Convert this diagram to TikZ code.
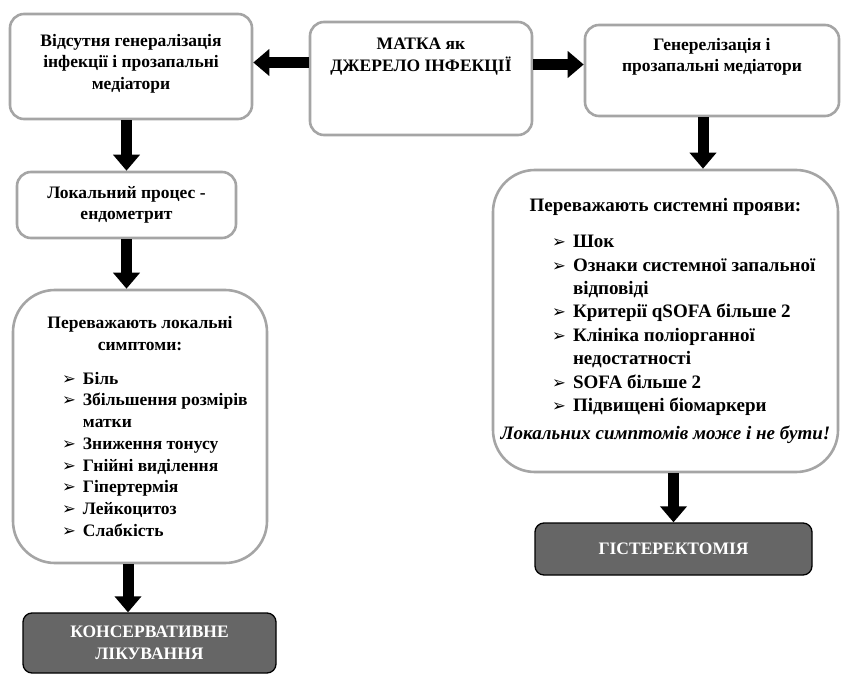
\documentclass[tikz,border=0pt]{standalone}
\usepackage{fontspec}
\setmainfont{Liberation Serif}
\newfontfamily\symfont{DejaVu Sans}
\usetikzlibrary{arrows.meta,positioning}

\definecolor{boxgray}{HTML}{A5A5A5}
\definecolor{endgray}{HTML}{666666}

% font sizes
\newcommand\fsbox{\fontsize{17.5}{21.5}\selectfont}
\newcommand\fsloc{\fontsize{17.5}{21.7}\selectfont}
\newcommand\fssys{\fontsize{19}{23.4}\selectfont}

% text of a box: width, height, gap above the first line, text
\newcommand\midcell[3]{\parbox[c][#2][c]{#1}{\centering #3\par}}
\newcommand\topcell[4]{\parbox[c][#2][t]{#1}{\centering\vspace*{#3}#4\par}}
% one item of a list
\newcommand\itm[1]{\hangindent=21pt\hangafter=1\noindent
  \makebox[21pt][l]{\symfont\fontsize{16.5}{16.5}\selectfont ➢}#1\par}

\tikzset{
  box/.style={draw=boxgray, line width=2.6pt, rounded corners=14pt,
    fill=white, inner sep=0pt, font=\bfseries\fsbox},
  bigbox/.style={box, rounded corners=42pt},
  endbox/.style={draw=black, line width=1.3pt, rounded corners=9pt,
    fill=endgray, inner sep=0pt, text=white, font=\bfseries\fsbox},
  fat/.style={line width=11pt, -{Triangle[width=26pt,length=16pt]}}
}

\begin{document}
\begin{tikzpicture}[x=1pt,y=-1pt]
  \useasboundingbox (0,0) rectangle (841,674);

  % top row
  \node[box] (source) at (421,78.5)
    {\topcell{222pt}{113pt}{16pt}{МАТКА як\\ДЖЕРЕЛО ІНФЕКЦІЇ}};
  \node[box] (nogen) at (131,66.5)
    {\topcell{242pt}{105pt}{20pt}{Відсутня генералізація\\інфекції і прозапальні\\медіатори}};
  \node[box] (gen) at (712,70.5)
    {\topcell{254pt}{91pt}{13pt}{Генерелізація і\\прозапальні медіатори}};

  % left branch
  \node[box] (endo) at (126.5,205)
    {\midcell{219pt}{66pt}{Локальний процес -\\ендометрит}};
  \node[bigbox] (local) at (140,426.5)
    {\midcell{254pt}{273pt}{\fsloc
      Переважають локальні\\симптоми:\par\vspace{12pt}
      \raggedright\leftskip=49pt
      \itm{Біль}
      \itm{Збільшення розмірів\newline матки}
      \itm{Зниження тонусу}
      \itm{Гнійні виділення}
      \itm{Гіпертермія}
      \itm{Лейкоцитоз}
      \itm{Слабкість}}};
  \node[endbox] (conserv) at (149.5,643)
    {\midcell{253pt}{60pt}{КОНСЕРВАТИВНЕ\\ЛІКУВАННЯ}};

  % right branch
  \node[bigbox] (system) at (665.5,321)
    {\midcell{345pt}{302pt}{\fssys
      Переважають системні прояви:\par\vspace{13pt}
      \raggedright\leftskip=59pt
      \itm{Шок}
      \itm{Ознаки системної запальної\newline відповіді}
      \itm{Критерії qSOFA більше 2}
      \itm{Клініка поліорганної\newline недостатності}
      \itm{SOFA більше 2}
      \itm{Підвищені біомаркери}
      \vspace{5pt}\centering
      \textit{Локальних симптомів може і не бути!}}};
  \node[endbox] (hyster) at (673.5,549)
    {\midcell{277pt}{52pt}{ГІСТЕРЕКТОМІЯ}};

  % arrows
  \draw[fat] ([yshift=16pt]source.west) -- ([yshift=16pt]source.west -| nogen.east);
  \draw[fat] ([yshift=14pt]source.east) -- ([yshift=14pt]source.east -| gen.west);
  \draw[fat] (endo.north |- nogen.south) -- (endo.north);
  \draw[fat] (endo.south) -- (endo.south |- local.north);
  \draw[fat] ([xshift=-12pt]local.south) -- ([xshift=-12pt]local.south |- conserv.north);
  \draw[fat] ([xshift=-9pt]gen.south) -- ([xshift=-9pt]gen.south |- system.north);
  \draw[fat] (hyster.north |- system.south) -- (hyster.north);
\end{tikzpicture}
\end{document}
